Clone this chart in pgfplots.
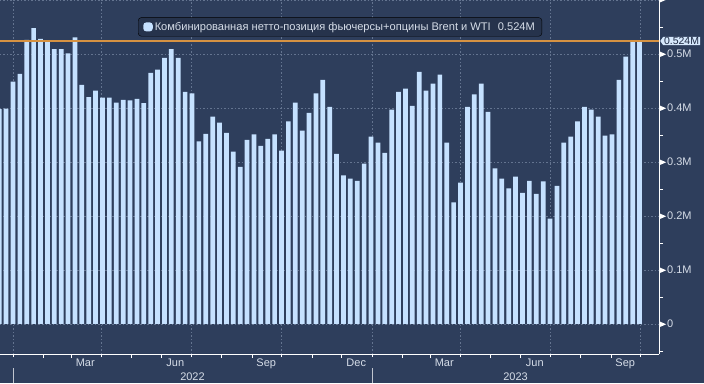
\documentclass[border=0pt]{standalone}
\usepackage{pgfplots}
\pgfplotsset{compat=1.18}
\usepackage{fontspec}
\setmainfont{Liberation Sans}
\usetikzlibrary{shapes.symbols}
\definecolor{bg}{RGB}{46,62,92}
\definecolor{barc}{RGB}{197,225,255}
\definecolor{gridc}{RGB}{100,116,144}
\definecolor{txt}{RGB}{214,221,232}
\definecolor{orl}{RGB}{214,146,66}
\definecolor{legbg}{RGB}{38,51,76}
\definecolor{labbg}{RGB}{214,232,252}
\definecolor{labtxt}{RGB}{30,42,68}
\newcommand\tri{\tikz[baseline=-0.6ex]\fill[white] (0,-3pt)--(7pt,0)--(0,3pt)--cycle;\hspace{1pt}}
\begin{document}
\begin{tikzpicture}
\fill[bg] (0,-29pt) rectangle (704pt,354pt);
\useasboundingbox (0,-29pt) rectangle (704pt,354pt);
\begin{axis}[
 at={(0,0)}, anchor=south west,
 scale only axis, width=659pt, height=354pt,
 xmin=-13.2, xmax=656.8, ymin=-0.05556, ymax=0.6,
 axis x line*=bottom, axis y line*=right,
 axis line style={white, line width=0.8pt},
 ybar, bar width=4.8,
 xtick={0,90,181,273,365,455,546,638}, xticklabels={},
 minor xtick={31,59,120,151,212,243,304,334,396,424,485,516,577,608},
 ytick={0,0.1,0.2,0.3,0.4,0.5,0.6},
 yticklabels={{\tri 0},{\tri 0.1M},{\tri 0.2M},{\tri 0.3M},{\tri 0.4M},{\tri 0.5M},{\tri}},
 minor ytick={-0.05,0.05,0.15,0.25,0.35,0.45,0.55},
 xmajorgrids, ymajorgrids,
 major grid style={gridc, dash pattern=on 1.5pt off 2pt, line width=0.6pt},
 tick style={white, line width=0.8pt},
 tick align=outside,
 major tick length=3pt, minor tick length=4pt,
 every tick label/.append style={font=\fontsize{11}{12.5}\selectfont, text=txt},
 yticklabel style={anchor=west, inner xsep=0pt, xshift=-3pt},
 xticklabel style={yshift=-1.5pt},
 extra x ticks={73.5,165,257.5,349,438.5,530.5,622.5,182.5,511},
 extra x tick labels={Mar,Jun,Sep,Dec,Mar,Jun,Sep,{\strut\\2022},{\strut\\2023}},
 extra x tick style={major tick length=0pt, grid=none, xticklabel style={align=center}},
 legend style={at={(0.516,0.924)}, anchor=center, fill=legbg, draw=black, rounded corners=3pt, text=txt, font=\fontsize{11.1}{13}\selectfont, inner xsep=5pt, inner ysep=2.5pt},
 legend image code/.code={\fill[barc] (0pt,-4.5pt) rectangle (9.5pt,4.5pt);},
]
\addplot[fill=barc, draw=none] coordinates {
(-14,0.398) (-7,0.399) (0,0.449) (7,0.463) (14,0.526) (21,0.548) (28,0.528) (35,0.522) (42,0.509) (49,0.509)
(56,0.501) (63,0.531) (70,0.443) (77,0.420) (84,0.432) (91,0.419) (98,0.419) (105,0.410) (112,0.415) (119,0.414)
(126,0.417) (133,0.409) (140,0.465) (147,0.471) (154,0.493) (161,0.509) (168,0.493) (175,0.430) (182,0.427) (189,0.338)
(196,0.352) (203,0.384) (210,0.373) (217,0.354) (224,0.319) (231,0.291) (238,0.341) (245,0.351) (252,0.330) (259,0.343)
(266,0.351) (273,0.321) (280,0.375) (287,0.410) (294,0.358) (301,0.391) (308,0.427) (315,0.452) (322,0.402) (329,0.315)
(336,0.275) (343,0.269) (350,0.265) (357,0.297) (364,0.347) (371,0.336) (378,0.317) (385,0.397) (392,0.430) (399,0.436)
(406,0.404) (413,0.467) (420,0.432) (427,0.445) (434,0.462) (441,0.336) (448,0.225) (455,0.262) (462,0.402) (469,0.425)
(476,0.445) (483,0.393) (490,0.288) (497,0.269) (504,0.251) (511,0.273) (518,0.243) (525,0.265) (532,0.241) (539,0.264)
(546,0.195) (553,0.256) (560,0.336) (567,0.347) (574,0.375) (581,0.402) (588,0.397) (595,0.384) (602,0.349) (609,0.351)
(616,0.452) (623,0.495) (630,0.523) (637,0.524)
};
\addlegendentry{Комбинированная нетто-позиция фьючерсы+опцины Brent и WTI\hspace{7pt}0.524M}
\addplot[orl, line width=1.2pt, sharp plot, forget plot] coordinates {(-20,0.524) (700,0.524)};
\end{axis}
\draw[white!70!bg, line width=0.8pt] (13pt,-14pt) -- (13pt,-29pt);
\draw[white!70!bg, line width=0.8pt] (372pt,-14pt) -- (372pt,-29pt);
\node[signal, signal to=west, signal pointer angle=110, fill=labbg, text=labtxt, inner xsep=1pt, inner ysep=0.3pt, anchor=west, font=\fontsize{10.5}{12}\selectfont] at (660pt,313pt) {0.524M};
\end{tikzpicture}
\end{document}
